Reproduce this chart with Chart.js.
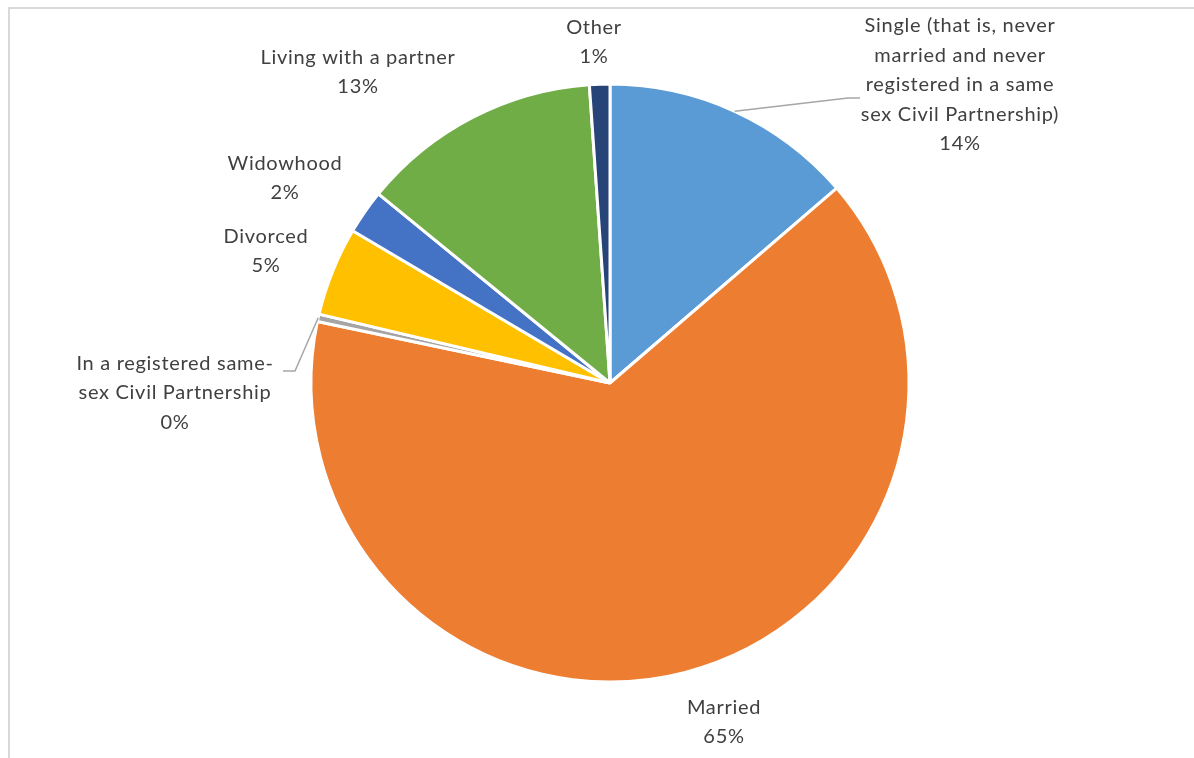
<!DOCTYPE html>
<html>
<head>
<meta charset="utf-8">
<title>Marital status</title>
<script src="https://cdn.jsdelivr.net/npm/chart.js@4.4.1/dist/chart.umd.min.js"></script>
<style>
  html, body { margin: 0; padding: 0; background: #ffffff; overflow: hidden; }
  #wrap { position: relative; width: 1194px; height: 758px; }
  #frame { position: absolute; left: 8px; top: 7px; right: -10px; bottom: -10px;
           border-left: 2px solid #d9d9d9; border-top: 2px solid #d9d9d9; }
  canvas { position: absolute; left: 0; top: 0; }
</style>
</head>
<body>
<div id="wrap">
  <div id="frame"></div>
  <canvas id="chart" width="1194" height="758"></canvas>
</div>
<script>
// Categories, clockwise from twelve o'clock
const categories = [
  ["Single (that is, never", "married and never", "registered in a same", "sex Civil Partnership)"],
  ["Married"],
  ["In a registered same-", "sex Civil Partnership"],
  ["Divorced"],
  ["Widowhood"],
  ["Living with a partner"],
  ["Other"]
];
// Share of respondents, percent
const shares = [13.7, 64.6, 0.4, 4.8, 2.4, 13.0, 1.1];
const sliceColors = ["#5B9BD5", "#ED7D31", "#A5A5A5", "#FFC000", "#4472C4", "#70AD47", "#264478"];

// Label placement: centre of the text block relative to the pie centre (px),
// plus optional leader-line bend points (also relative to the pie centre).
const labelLayout = [
  { dx: 350, dy: -298, leader: [[238, -285], [250, -285]] },
  { dx: 114, dy: 339 },
  { dx: -435, dy: 10, leader: [[-315, -12], [-327, -12]] },
  { dx: -344, dy: -132 },
  { dx: -325, dy: -205 },
  { dx: -252, dy: -311 },
  { dx: -16, dy: -341 }
];

const LINE_H = 29.5;
const FONT = '20px Lato, "Open Sans", sans-serif';

const labelPlugin = {
  id: 'outsideLabels',
  afterDatasetsDraw(chart) {
    const ctx = chart.ctx;
    const meta = chart.getDatasetMeta(0);
    ctx.save();
    meta.data.forEach((arc, i) => {
      const { x: cx, y: cy, startAngle, endAngle, outerRadius } = arc.getProps(['x', 'y', 'startAngle', 'endAngle', 'outerRadius'], true);
      const lay = labelLayout[i];
      const lines = categories[i].concat([Math.round(shares[i]) + '%']);
      const tx = cx + lay.dx;
      const ty = cy + lay.dy;
      if (lay.leader) {
        const mid = (startAngle + endAngle) / 2;
        ctx.beginPath();
        ctx.strokeStyle = '#a6a6a6';
        ctx.lineWidth = 1.5;
        ctx.moveTo(cx + Math.cos(mid) * outerRadius, cy + Math.sin(mid) * outerRadius);
        lay.leader.forEach(p => ctx.lineTo(cx + p[0], cy + p[1]));
        ctx.stroke();
      }
      ctx.font = FONT;
      ctx.letterSpacing = '0.7px';
      ctx.fillStyle = '#404040';
      ctx.textAlign = 'center';
      ctx.textBaseline = 'middle';
      const top = ty - (lines.length - 1) * LINE_H / 2;
      lines.forEach((ln, k) => ctx.fillText(ln, tx, top + k * LINE_H));
    });
    ctx.restore();
  }
};

new Chart(document.getElementById('chart'), {
  type: 'pie',
  data: {
    labels: categories.map(c => c.join(' ')),
    datasets: [{
      data: shares,
      backgroundColor: sliceColors,
      borderColor: '#ffffff',
      borderWidth: 3
    }]
  },
  options: {
    responsive: false,
    animation: false,
    radius: 299,
    layout: { padding: { left: 26, right: 0, top: 8, bottom: 0 } },
    plugins: {
      legend: { display: false },
      tooltip: { enabled: false },
      title: { display: false }
    }
  },
  plugins: [labelPlugin]
});
</script>
</body>
</html>
